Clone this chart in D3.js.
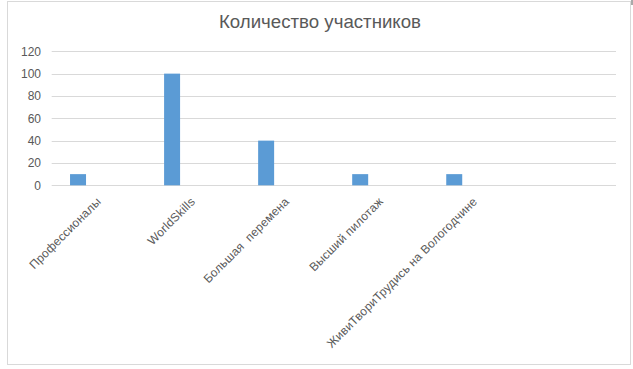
<!DOCTYPE html>
<html><head><meta charset="utf-8">
<script src="https://cdn.jsdelivr.net/npm/d3@7"></script>
<style>body{margin:0;background:#fff;} svg{display:block;font-family:"Liberation Sans",Arial,sans-serif;}</style>
</head><body>
<svg id="c" width="633" height="369"></svg>
<script>
const title = "Количество участников";
const categories = ["Профессионалы","WorldSkills","Большая  перемена","Высший пилотаж","ЖивиТвориТрудись на Вологодчине",""];
const values = [10,100,40,10,10,null];
const yTicks = [0,20,40,60,80,100,120];

(function(){
const svg = d3.select("#c");
svg.append("rect").attr("x",7.5).attr("y",1.5).attr("width",623).attr("height",363)
  .attr("fill","#fff").attr("stroke","#d9d9d9").attr("stroke-width",1);
svg.append("line").attr("x1",632).attr("x2",632).attr("y1",0).attr("y2",5).attr("stroke","#555");

const pL=51.7, pR=616, pT=51.3, pB=185.3;
const x = d3.scaleBand().domain(categories.map((c,i)=>i)).range([pL,pR]).padding(0);
const y = d3.scaleLinear().domain([0,120]).range([pB,pT]);

svg.append("text").attr("x",320).attr("y",28.3).attr("text-anchor","middle")
  .attr("font-size","18.67px").attr("fill","#595959").text(title);

const g = svg.append("g");
g.selectAll("line.grid").data(yTicks).enter().append("line")
  .attr("x1",pL).attr("x2",pR).attr("y1",d=>Math.round(y(d))+0.5).attr("y2",d=>Math.round(y(d))+0.5)
  .attr("stroke","#d9d9d9").attr("stroke-width",1);

const yAxis = d3.axisLeft(y).tickValues(yTicks).tickSize(0).tickPadding(0);
const ya = svg.append("g").attr("transform",`translate(41,0)`).call(yAxis);
ya.select(".domain").remove();
ya.selectAll("text").attr("font-size","12px").attr("fill","#595959").attr("font-family","Liberation Sans, Arial, sans-serif");

const bw = x.bandwidth();
g.selectAll("rect.bar").data(values.map((v,i)=>({v,i})).filter(d=>d.v!=null)).enter().append("rect")
  .attr("x",d=>x(d.i)+bw*0.195).attr("width",bw*0.17)
  .attr("y",d=>y(d.v)).attr("height",d=>y(0)-y(d.v)).attr("fill","#5b9bd5");

const xAxis = d3.axisBottom(x).tickSize(0).tickPadding(0).tickFormat(i=>categories[i]);
const xa = svg.append("g").attr("transform",`translate(0,${pB})`).call(xAxis);
xa.select(".domain").remove();
xa.selectAll("text").attr("font-size","12px").attr("fill","#595959").attr("font-family","Liberation Sans, Arial, sans-serif")
  .attr("text-anchor","end").attr("dy",null).attr("y",0)
  .attr("letter-spacing","0.2px").style("white-space","pre").attr("xml:space","preserve")
  .attr("transform","translate(3,17) rotate(-45)");
})();
</script>
</body></html>
